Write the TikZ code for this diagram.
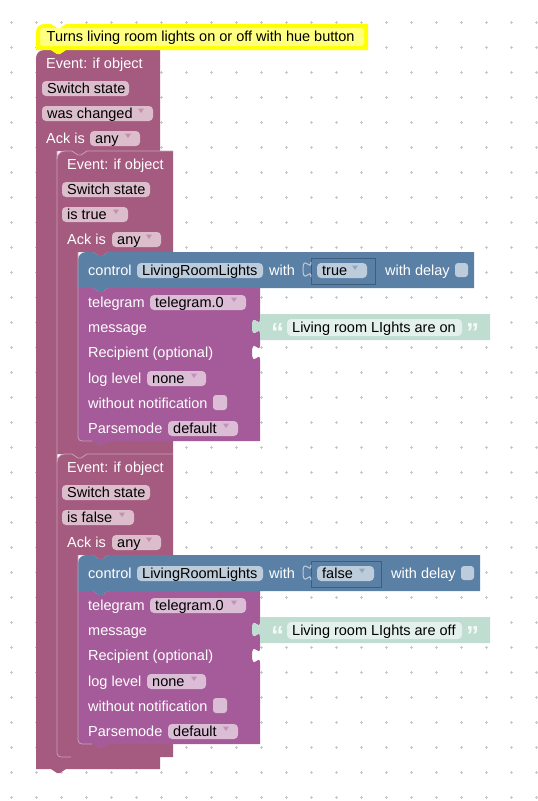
\documentclass[tikz,border=0pt]{standalone}
\usepackage{fontspec}
\setmainfont{Liberation Sans}
\newcommand\blkfont{\fontsize{14.5}{17}\selectfont}
\newcommand\topnotch[2]{-- ({#1+15},{#2}) -- ({#1+21},{#2+4}) -- ({#1+24},{#2+4}) -- ({#1+30},{#2})}
\newcommand\bottab[2]{-- ({#1+30},{#2}) -- ({#1+24},{#2+4}) -- ({#1+21},{#2+4}) -- ({#1+15},{#2})}
\newcommand\rnotch[2]{-- (#1,#2) .. controls (#1,{#2+10}) and ({#1-8},{#2-8}) .. ({#1-8},{#2+7.5}) .. controls ({#1-8},{#2+23}) and (#1,{#2+5}) .. (#1,{#2+15})}
\newcommand\ddarrow[3]{\fill[#3] ({#1-15},{#2-9.5}) -- ({#1-9},{#2-9.5}) -- ({#1-12},{#2-5}) -- cycle;}
\newcommand\fld[4]{\fill[#4,rounded corners=4pt] (#1,{#3-12}) rectangle (#2,{#3+3});}
\definecolor{evcol}{HTML}{A55B80}
\definecolor{evf}{HTML}{DBBDCC}
\definecolor{evar}{HTML}{C48FAA}
\definecolor{evhl}{HTML}{C9A0B5}
\definecolor{tgcol}{HTML}{A55B99}
\definecolor{tgf}{HTML}{DBBDD6}
\definecolor{tgar}{HTML}{C48FB8}
\definecolor{ctcol}{HTML}{5B80A5}
\definecolor{ctf}{HTML}{BDCCDB}
\definecolor{ctar}{HTML}{8FA8C2}
\definecolor{ctdark}{HTML}{3F5E7E}
\definecolor{txcol}{HTML}{C0DDD2}
\definecolor{txf}{HTML}{E3F0EB}
\definecolor{txq}{HTML}{F4FAF8}
\definecolor{cmt}{HTML}{FFFF00}
\definecolor{cmtf}{HTML}{FFFF80}
\definecolor{dotc}{HTML}{C8C8C8}
\begin{document}
\begin{tikzpicture}[x=1pt,y=-1pt,
  lbl/.style={anchor=base west,inner sep=0pt,text=white,font=\blkfont},
  ftx/.style={anchor=base west,inner sep=0pt,text=black,font=\blkfont},
  qt/.style={anchor=base west,inner sep=0pt,text=txq,font=\fontsize{26}{26}\selectfont\bfseries},
  hl/.style={line width=0.8pt,line join=round}]
\useasboundingbox (0,0) rectangle (538,801);
\fill[white] (0,0) rectangle (538,801);
\foreach \i in {0,...,21}{\foreach \j in {0,...,31}{
  \draw[dotc,line width=0.7pt] ({10+25*\i},{22.7+25*\j}) -- ++(3,0) ({11.5+25*\i},{21.2+25*\j}) -- ++(0,3);}}
% outer event block
\path[fill=evcol] (36,58) .. controls (36,53.6) and (39.6,50) .. (44,50) \topnotch{36}{50} -- (160,50) -- (160,151) \bottab{57}{151} -- (57,151) -- (57,757) -- (160,757) -- (160,769) \bottab{36}{769} -- (36,769) -- cycle;
% comment block
\path[fill=cmt] (36,32) .. controls (36,27.6) and (39.6,24) .. (44,24) \topnotch{36}{24} -- (368,24) -- (368,50) \bottab{36}{50} -- (36,50) -- cycle;
\fill[cmtf, rounded corners=3pt] (40,28) rectangle (364,46);
\node[ftx] (cmtxt) at (46.5,41.5) {Turns living room lights on or off with hue button};
% outer header
\node[lbl] (o1) at (46,68) {Event: if object};
\fld{42}{129}{93}{evf} \node[ftx] (o2) at (47,93) {Switch state};
\fld{42}{153}{118}{evf} \node[ftx] (o3) at (47,118) {was changed}; \ddarrow{153}{118}{evar}
\node[lbl] (o4) at (46,143) {Ack is};
\fld{90}{140}{143}{evf} \node[ftx] (o5) at (95,143) {any}; \ddarrow{140}{143}{evar}
% ===== section 1 =====
\path[fill=evcol] (57,159) .. controls (57,154.6) and (60.6,151) .. (65,151) \topnotch{57}{151} -- (173,151) -- (173,252) \bottab{78}{252} -- (78,252) -- (78,441) -- (173,441) -- (173,454) \bottab{57}{454} -- (57,454) -- cycle;
\node[lbl] (a1) at (67,169) {Event: if object};
\fld{62}{150}{194}{evf} \node[ftx] (a2) at (67,194) {Switch state};
\fld{62}{128}{219}{evf} \node[ftx] (a3) at (67,219) {is true}; \ddarrow{128}{219}{evar}
\node[lbl] (a4) at (67,244) {Ack is};
\fld{112}{161}{244}{evf} \node[ftx] (a5) at (117,244) {any}; \ddarrow{161}{244}{evar}
% control
\path[fill=ctcol] (78,260) .. controls (78,255.6) and (81.6,252) .. (86,252) \topnotch{78}{252} -- (474,252) -- (474,288) \bottab{78}{288} -- (78,288) -- cycle;
\node[lbl] (c1) at (88,275) {control};
\fld{137}{263}{275}{ctf} \node[ftx] (c2) at (142,275) {LivingRoomLights};
\node[lbl] (c3) at (269,275) {with};
\path[fill=ctcol, draw=ctdark, line width=0.8pt] (311,258) rectangle (375,284);
\draw[ctf, line width=1pt] (311,277) .. controls (311,267) and (303,285) .. (303,269.5) .. controls (303,254) and (311,272) .. (311,262);
\fld{317}{367}{275}{ctf} \node[ftx] (c4) at (322,275) {true}; \ddarrow{367}{275}{ctar}
\node[lbl] (c5) at (385,275) {with delay};
\fill[ctf, rounded corners=3pt] (455,263) rectangle (468,277);
% telegram
\path[fill=tgcol] (78,288) \topnotch{78}{288} -- (260,288) \rnotch{260}{319} \rnotch{260}{345} -- (260,441) \bottab{78}{441} -- (78,441) -- cycle;
\node[lbl] (t1) at (88,307) {telegram};
\fld{150}{246}{307}{tgf} \node[ftx] (t2) at (155,307) {telegram.0}; \ddarrow{246}{307}{tgar}
\node[lbl] (t3) at (88,332) {message};
\node[lbl] (t4) at (88,357) {Recipient (optional)};
\node[lbl] (t5) at (88,383) {log level};
\fld{147}{206}{383}{tgf} \node[ftx] (t6) at (152,383) {none}; \ddarrow{206}{383}{tgar}
\node[lbl] (t7) at (88,408) {without notification};
\fill[tgf, rounded corners=3pt] (213,395) rectangle (227,410);
\node[lbl] (t8) at (88,433) {Parsemode};
\fld{168}{238}{433}{tgf} \node[ftx] (t9) at (173,433) {default}; \ddarrow{238}{433}{tgar}
% text
\path[fill=txcol] (260,314) -- (490,314) -- (490,340) -- (260,340) -- (260,334) .. controls (260,324) and (252,342) .. (252,326.5) .. controls (252,311) and (260,329) .. (260,319) -- cycle;
\node[qt] (q1) at (271,341) {“};
\fill[txf, rounded corners=4pt] (287,319) rectangle (462,336);
\node[ftx] (m1) at (292,332) {Living room LIghts are on};
\node[qt] (q2) at (466,341) {”};
% ===== section 2 =====
\begin{scope}[yshift=-303pt]
\path[fill=evcol] (57,159) .. controls (57,154.6) and (60.6,151) .. (65,151) \topnotch{57}{151} -- (173,151) -- (173,252) \bottab{78}{252} -- (78,252) -- (78,441) -- (173,441) -- (173,454) \bottab{57}{454} -- (57,454) -- cycle;
\node[lbl] (b1) at (67,169) {Event: if object};
\fld{62}{150}{194}{evf} \node[ftx] (b2) at (67,194) {Switch state};
\fld{62}{134}{219}{evf} \node[ftx] (b3) at (67,219) {is false}; \ddarrow{134}{219}{evar}
\node[lbl] (b4) at (67,244) {Ack is};
\fld{112}{161}{244}{evf} \node[ftx] (b5) at (117,244) {any}; \ddarrow{161}{244}{evar}
\path[fill=ctcol] (78,260) .. controls (78,255.6) and (81.6,252) .. (86,252) \topnotch{78}{252} -- (480,252) -- (480,288) \bottab{78}{288} -- (78,288) -- cycle;
\node[lbl] (d1) at (88,275) {control};
\fld{137}{263}{275}{ctf} \node[ftx] (d2) at (142,275) {LivingRoomLights};
\node[lbl] (d3) at (269,275) {with};
\path[fill=ctcol, draw=ctdark, line width=0.8pt] (311,258) rectangle (381,284);
\draw[ctf, line width=1pt] (311,277) .. controls (311,267) and (303,285) .. (303,269.5) .. controls (303,254) and (311,272) .. (311,262);
\fld{317}{374}{275}{ctf} \node[ftx] (d4) at (322,275) {false}; \ddarrow{374}{275}{ctar}
\node[lbl] (d5) at (391,275) {with delay};
\fill[ctf, rounded corners=3pt] (461,263) rectangle (474,277);
\path[fill=tgcol] (78,288) \topnotch{78}{288} -- (260,288) \rnotch{260}{319} \rnotch{260}{345} -- (260,441) \bottab{78}{441} -- (78,441) -- cycle;
\node[lbl] (u1) at (88,307) {telegram};
\fld{150}{246}{307}{tgf} \node[ftx] (u2) at (155,307) {telegram.0}; \ddarrow{246}{307}{tgar}
\node[lbl] (u3) at (88,332) {message};
\node[lbl] (u4) at (88,357) {Recipient (optional)};
\node[lbl] (u5) at (88,383) {log level};
\fld{147}{206}{383}{tgf} \node[ftx] (u6) at (152,383) {none}; \ddarrow{206}{383}{tgar}
\node[lbl] (u7) at (88,408) {without notification};
\fill[tgf, rounded corners=3pt] (213,395) rectangle (227,410);
\node[lbl] (u8) at (88,433) {Parsemode};
\fld{168}{238}{433}{tgf} \node[ftx] (u9) at (173,433) {default}; \ddarrow{238}{433}{tgar}
\path[fill=txcol] (260,314) -- (490,314) -- (490,340) -- (260,340) -- (260,334) .. controls (260,324) and (252,342) .. (252,326.5) .. controls (252,311) and (260,329) .. (260,319) -- cycle;
\node[qt] (r1) at (271,341) {“};
\fill[txf, rounded corners=4pt] (287,319) rectangle (462,336);
\node[ftx] (n1) at (292,332) {Living room LIghts are off};
\node[qt] (r2) at (466,341) {”};
\draw[hl,evhl] (57,159) .. controls (57,154.6) and (60.6,151) .. (65,151) \topnotch{57}{151} -- (173,151);
\draw[hl,evhl,rounded corners=4pt] (78,252) -- (78,441) -- (92,441);
\end{scope}
% highlights
\draw[hl,evhl] (57,159) .. controls (57,154.6) and (60.6,151) .. (65,151) \topnotch{57}{151} -- (173,151);
\draw[hl,evhl,rounded corners=4pt] (78,252) -- (78,441) -- (92,441);
\draw[hl,evhl,rounded corners=4pt] (57,151) -- (57,757) -- (71,757);
\end{tikzpicture}
\end{document}
